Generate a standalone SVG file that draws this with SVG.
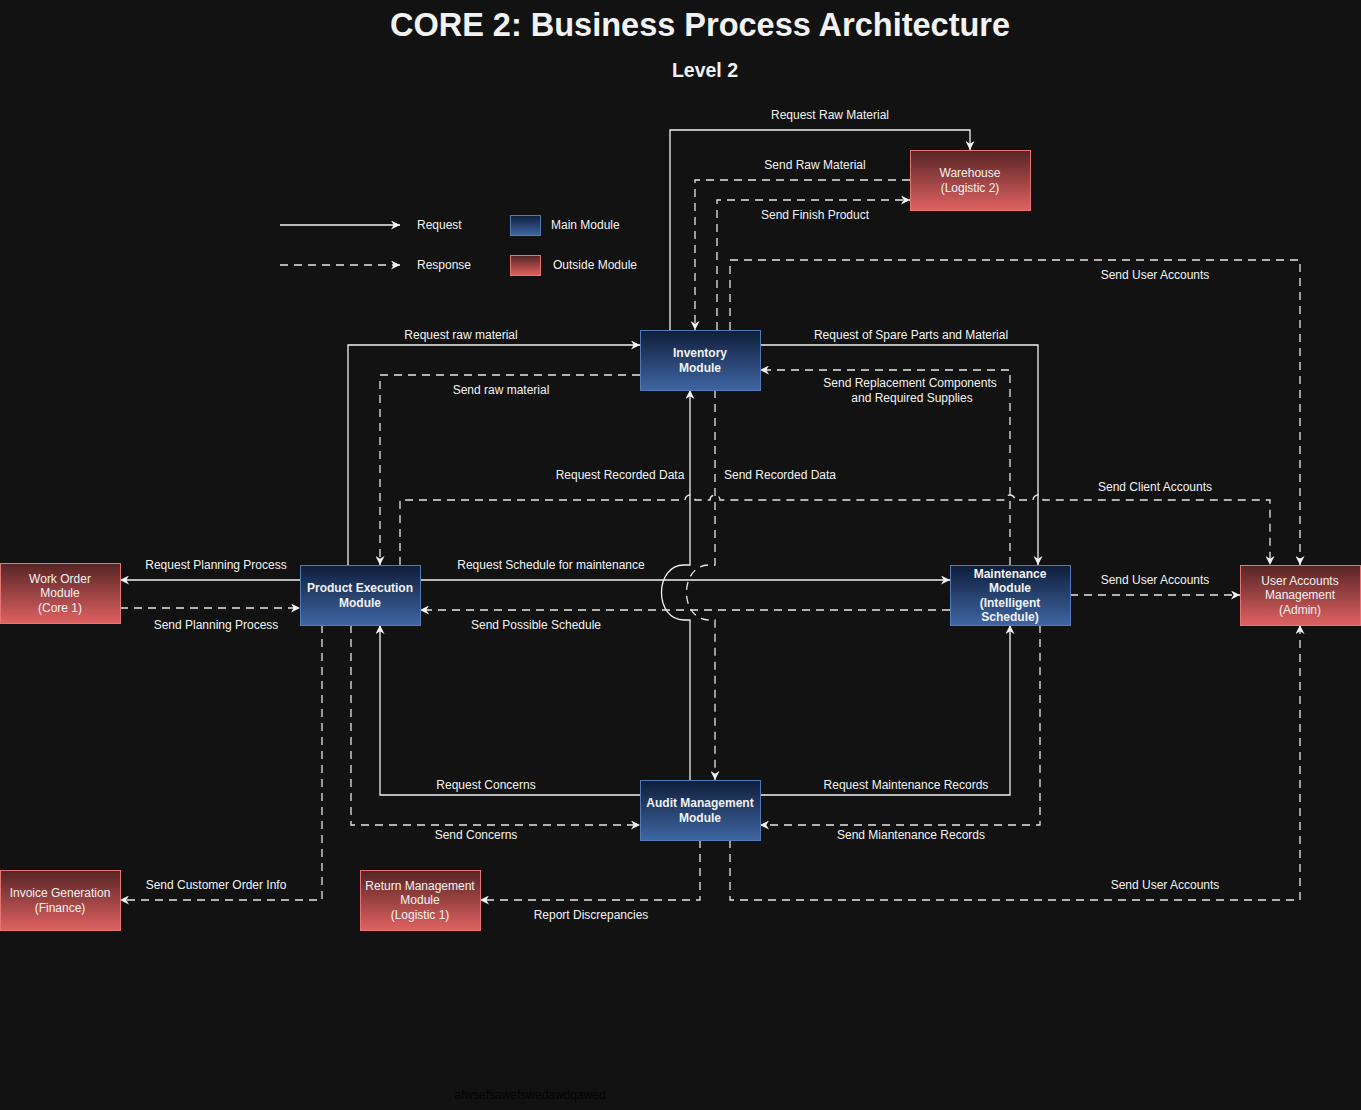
<svg xmlns="http://www.w3.org/2000/svg" width="1361" height="1110" viewBox="0 0 1361 1110">
<defs>
<linearGradient id="gBlue" x1="0" y1="0" x2="0" y2="1"><stop offset="0" stop-color="#0f1e3b"/><stop offset="1" stop-color="#3f66a3"/></linearGradient>
<linearGradient id="gRed" x1="0" y1="0" x2="0" y2="1"><stop offset="0" stop-color="#572424"/><stop offset="1" stop-color="#e06262"/></linearGradient>
<marker id="ar" viewBox="0 0 10 10" refX="10" refY="5" markerWidth="9" markerHeight="9" markerUnits="userSpaceOnUse" orient="auto"><path d="M0,0 L10,5 L0,10 L3,5 z" fill="#f2f2f2"/></marker>
</defs>
<style>
text{font-family:"Liberation Sans",Arial,sans-serif;fill:#f2f2f2;}
.lbl{font-size:12px;text-anchor:middle;}
.nt{font-size:12px;text-anchor:middle;}
.nb{font-size:12px;text-anchor:middle;font-weight:bold;}
.main{fill:url(#gBlue);stroke:#5379b6;stroke-width:1;}
.out{fill:url(#gRed);stroke:#e57575;stroke-width:1;}
.s{fill:none;stroke:#f2f2f2;stroke-width:1.3;}
.d{fill:none;stroke:#e6e6e6;stroke-width:1.3;stroke-dasharray:8 6;}
.a{marker-end:url(#ar);}
</style>
<rect width="1361" height="1110" fill="#121212"/>
<text x="700" y="36" style="font-size:32.5px;font-weight:bold;text-anchor:middle">CORE 2: Business Process Architecture</text>
<text x="705" y="77" style="font-size:19.5px;font-weight:bold;text-anchor:middle">Level 2</text>

<g id="legend">
<path class="s a" d="M280,225 H400"/>
<text x="417" y="229" style="font-size:12px">Request</text>
<path class="d a" d="M280,265 H400"/>
<text x="417" y="269" style="font-size:12px">Response</text>
<rect class="main" x="510.5" y="215.5" width="30" height="20"/>
<text x="551" y="229" style="font-size:12px">Main Module</text>
<rect class="out" x="510.5" y="255.5" width="30" height="20"/>
<text x="553" y="269" style="font-size:12px">Outside Module</text>
</g>

<g id="connectors">
<path class="s a" d="M670,330 V130 H970 V150"/>
<path class="d a" d="M910,180 H695 V330"/>
<path class="d a" d="M717,330 V200 H910"/>
<path class="d a" d="M730,330 V260 H1300 V565"/>
<path class="s a" d="M348,565 V345 H640"/>
<path class="d a" d="M640,375 H380 V565"/>
<path class="s a" d="M760,345 H1038 V565"/>
<path class="d a" d="M1010,565 V370 H760"/>
<path class="s a" d="M690,780 V620 H684 C654,620 654,565 684,565 H690 V390"/>
<path class="d a" d="M715,390 V565 H709 C679,565 679,620 709,620 H715 V780"/>
<path class="d a" d="M400,565 V500 H685 A5,5 0 0 1 695,500 H710 A5,5 0 0 1 720,500 H1005 A5,5 0 0 1 1015,500 H1033 A5,5 0 0 1 1043,500 H1270 V565"/>
<path class="s a" d="M300,580 H120"/>
<path class="d a" d="M120,608 H300"/>
<path class="s a" d="M420,580 H950"/>
<path class="d a" d="M950,610 H420"/>
<path class="d a" d="M1070,595 H1240"/>
<path class="s a" d="M640,795 H380 V625"/>
<path class="d a" d="M351,625 V825 H640"/>
<path class="s a" d="M760,795 H1010 V625"/>
<path class="d a" d="M1040,625 V825 H760"/>
<path class="d a" d="M322,625 V900 H120"/>
<path class="d a" d="M700,840 V900 H480"/>
<path class="d a" d="M730,840 V900 H1300 V625"/>

<text class="lbl" x="830" y="119">Request Raw Material</text>
<text class="lbl" x="815" y="169">Send Raw Material</text>
<text class="lbl" x="815" y="219">Send Finish Product</text>
<text class="lbl" x="1155" y="279">Send User Accounts</text>
<text class="lbl" x="461" y="339">Request raw material</text>
<text class="lbl" x="501" y="394">Send raw material</text>
<text class="lbl" x="911" y="339">Request of Spare Parts and Material</text>
<text class="lbl" x="910" y="387">Send Replacement Components</text>
<text class="lbl" x="912" y="402">and Required Supplies</text>
<text class="lbl" x="620" y="479">Request Recorded Data</text>
<text class="lbl" x="780" y="479">Send Recorded Data</text>
<text class="lbl" x="1155" y="491">Send Client Accounts</text>
<text class="lbl" x="216" y="569">Request Planning Process</text>
<text class="lbl" x="216" y="629">Send Planning Process</text>
<text class="lbl" x="551" y="569">Request Schedule for maintenance</text>
<text class="lbl" x="536" y="629">Send Possible Schedule</text>
<text class="lbl" x="1155" y="584">Send User Accounts</text>
<text class="lbl" x="486" y="789">Request Concerns</text>
<text class="lbl" x="476" y="839">Send Concerns</text>
<text class="lbl" x="906" y="789">Request Maintenance Records</text>
<text class="lbl" x="911" y="839">Send Miantenance Records</text>
<text class="lbl" x="216" y="889">Send Customer Order Info</text>
<text class="lbl" x="591" y="919">Report Discrepancies</text>
<text class="lbl" x="1165" y="889">Send User Accounts</text>
</g>

<g id="warehouse"><rect class="out" x="910.5" y="150.5" width="120" height="60"/><text class="nt" x="970" y="177">Warehouse</text><text class="nt" x="970" y="192">(Logistic 2)</text></g>
<g id="inventory"><rect class="main" x="640.5" y="330.5" width="120" height="60"/><text class="nb" x="700" y="357">Inventory</text><text class="nb" x="700" y="372">Module</text></g>
<g id="product-execution"><rect class="main" x="300.5" y="565.5" width="120" height="60"/><text class="nb" x="360" y="592">Product Execution</text><text class="nb" x="360" y="607">Module</text></g>
<g id="maintenance"><rect class="main" x="950.5" y="565.5" width="120" height="60"/><text class="nb" x="1010" y="578">Maintenance</text><text class="nb" x="1010" y="592">Module</text><text class="nb" x="1010" y="607">(Intelligent</text><text class="nb" x="1010" y="621">Schedule)</text></g>
<g id="audit"><rect class="main" x="640.5" y="780.5" width="120" height="60"/><text class="nb" x="700" y="807">Audit Management</text><text class="nb" x="700" y="822">Module</text></g>
<g id="work-order"><rect class="out" x="0.5" y="563.5" width="120" height="60"/><text class="nt" x="60" y="583">Work Order</text><text class="nt" x="60" y="597">Module</text><text class="nt" x="60" y="612">(Core 1)</text></g>
<g id="user-accounts"><rect class="out" x="1240.5" y="565.5" width="120" height="60"/><text class="nt" x="1300" y="585">User Accounts</text><text class="nt" x="1300" y="599">Management</text><text class="nt" x="1300" y="614">(Admin)</text></g>
<g id="invoice"><rect class="out" x="0.5" y="870.5" width="120" height="60"/><text class="nt" x="60" y="897">Invoice Generation</text><text class="nt" x="60" y="912">(Finance)</text></g>
<g id="return-management"><rect class="out" x="360.5" y="870.5" width="120" height="60"/><text class="nt" x="420" y="890">Return Management</text><text class="nt" x="420" y="904">Module</text><text class="nt" x="420" y="919">(Logistic 1)</text></g>

<text x="530" y="1099" style="font-size:12px;text-anchor:middle;fill:#050505">afwsefsawefswedawdqawed</text>
</svg>
